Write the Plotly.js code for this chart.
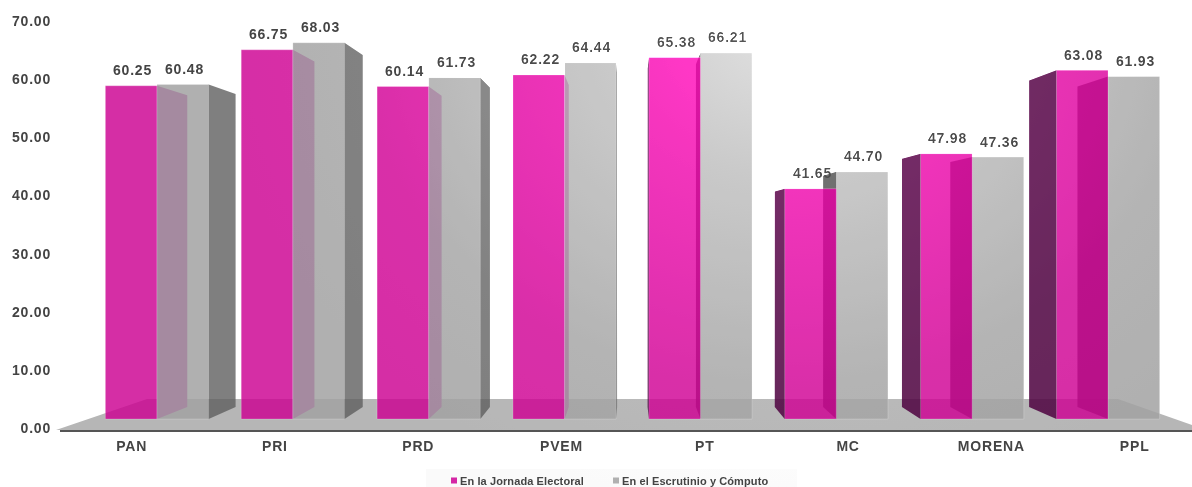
<!DOCTYPE html>
<html><head><meta charset="utf-8">
<script src="https://cdn.plot.ly/plotly-3.0.1.min.js"></script>
<style>
html,body{margin:0;padding:0;background:#fff;overflow:hidden;}
#wrap{position:relative;width:1192px;height:487px;overflow:hidden;background:#fff;}
#chart{position:absolute;left:0;top:0;width:1192px;height:520px;}
#chart text{letter-spacing:.8px;}
#chart .legendtext{letter-spacing:.1px;transform:translateX(-14px);}
#chart .legend .scrollbox{clip-path:none !important;}
#sheen{position:absolute;left:0;top:0;width:1192px;height:487px;pointer-events:none;mix-blend-mode:color-dodge;
background:radial-gradient(ellipse 560px 480px at 780px 30px,rgb(56,56,56) 0%,rgb(33,33,33) 30%,rgb(18,18,18) 55%,rgb(5,5,5) 75%,rgb(0,0,0) 100%);}
</style></head><body>
<div id="wrap"><div id="chart"></div><div id="sheen"></div></div>
<script>
const categories=['PAN','PRI','PRD','PVEM','PT','MC','MORENA','PPL'];
const jornada=[60.25,66.75,60.14,62.22,65.38,41.65,47.98,63.08];
const escrutinio=[60.48,68.03,61.73,64.44,66.21,44.70,47.36,61.93];
const seriesNames=['En la Jornada Electoral','En el Escrutinio y Cómputo'];
const yTicks=[0,10,20,30,40,50,60,70];

// the paper runs a little past the window so the legend sits inside it without pushing the margins
const W=1192,H=520,L=60,T=10,B=430;
const font='"Liberation Sans",Arial,sans-serif';
const ink='#444444';
// perspective of the depth faces, in bar-axis units
const vx=3.48,vy=33.8,k=0.064,bw=0.38;
const bx=x=>x+(vx-x)*k, by=y=>y+(vy-y)*k;
const idx=categories.map((_,i)=>i);
const backOrder=i=>i<4; // left groups: pink behind grey, right groups: grey behind pink

const C={pink:'rgba(204,0,145,0.82)',grey:'rgba(162,162,162,0.85)',
 pinkR:'rgb(180,0,150)',pinkL:'rgba(81,8,67,0.88)',greyR:'rgba(95,95,95,0.8)',greyL:'rgba(70,70,70,0.85)'};

function barTrace(vals,ids,off,color,xa,ya,name){
 return {type:'bar',x:ids,y:ids.map(i=>vals[i]),width:bw,offset:off,xaxis:xa,yaxis:ya,name:name,showlegend:false,
  marker:{color:color,line:{color:'rgba(255,255,255,0.2)',width:1}},hoverinfo:'x+y'};
}
function faceTrace(vals,ids,edgeOf,color,xa,ya){
 const xs=[],ys=[];
 ids.forEach(i=>{const e=edgeOf(i);if(e===null)return;const v=vals[i];
  xs.push(e,e,bx(e),bx(e),e,null);ys.push(0,v,by(v),by(0),0,null);});
 return {type:'scatter',mode:'lines',x:xs,y:ys,fill:'toself',fillcolor:color,line:{width:0},xaxis:xa,yaxis:ya,showlegend:false,hoverinfo:'skip'};
}
// edge of a bar whose side face is visible, by side
const rightEdge=o=>i=>(i+o+bw<vx)?i+o+bw:null;
const leftEdge=o=>i=>(i+o>vx)?i+o:null;
const backIds=idx.filter(backOrder), frontIds=idx.filter(i=>!backOrder(i));

const data=[
 {type:'scatter',mode:'markers',x:categories,y:categories.map(()=>null),name:seriesNames[0],marker:{symbol:'square',size:6,color:'#d526a5'}},
 {type:'scatter',mode:'markers',x:categories,y:categories.map(()=>null),name:seriesNames[1],marker:{symbol:'square',size:6,color:'#b0b0b0'}},
 // rear layer
 barTrace(jornada,backIds,-bw,C.pink,'x2','y2',seriesNames[0]),
 barTrace(escrutinio,frontIds,0,C.grey,'x2','y2',seriesNames[1]),
 faceTrace(jornada,backIds,rightEdge(-bw),C.pinkR,'x2','y2'),
 faceTrace(escrutinio,frontIds,leftEdge(0),C.greyL,'x2','y2'),
 // front layer
 barTrace(escrutinio,backIds,0,C.grey,'x3','y3',seriesNames[1]),
 barTrace(jornada,frontIds,-bw,C.pink,'x3','y3',seriesNames[0]),
 faceTrace(escrutinio,backIds,rightEdge(0),C.greyR,'x3','y3'),
 faceTrace(jornada,frontIds,leftEdge(-bw),C.pinkL,'x3','y3')
];

const px=x=>(x-L)/(W-L), py=y=>(H-y)/(H-T);
const dom=[py(B),1];
const poly=pts=>'M'+pts.map(p=>px(p[0])+','+py(p[1])).join('L')+'Z';
const shapes=[
 {type:'path',xref:'paper',yref:'paper',layer:'below',path:poly([[56,430],[147,399],[1118,399],[1192,425],[1192,430]]),fillcolor:'#b6b6b6',line:{width:0}},
 {type:'rect',xref:'paper',yref:'paper',layer:'below',x0:px(426),x1:px(797),y0:py(487),y1:py(469),fillcolor:'#fafafa',line:{width:0}},
 {type:'line',xref:'paper',yref:'paper',layer:'below',x0:0,x1:1,y0:py(431.5),y1:py(431.5),line:{color:'#c4c4c4',width:1}}
];
const labelFont={family:font,size:14,color:ink,weight:700};
const annotations=[];
idx.forEach(i=>{
 annotations.push({xref:'x3',yref:'y3',x:i-bw/2,y:jornada[i],text:jornada[i].toFixed(2),showarrow:false,yshift:15.5,xshift:1.5,font:labelFont});
 annotations.push({xref:'x3',yref:'y3',x:i+bw/2,y:escrutinio[i],text:escrutinio[i].toFixed(2),showarrow:false,yshift:15.5,xshift:1.5,font:labelFont});
});
const barX={range:[-0.714,7.618],visible:false,fixedrange:true};
const barY={range:[-1.989,73.96],visible:false,fixedrange:true,domain:dom};
const layout={
 width:W,height:H,margin:{l:L,r:0,t:T,b:0,pad:0},paper_bgcolor:'#fff',plot_bgcolor:'rgba(0,0,0,0)',
 barmode:'overlay',showlegend:true,hovermode:'closest',
 legend:{orientation:'h',x:px(434),xanchor:'left',y:py(466),yanchor:'top',bgcolor:'rgba(0,0,0,0)',font:{family:font,size:11,color:ink,weight:700},entrywidth:117,entrywidthmode:'pixels',itemclick:false,itemdoubleclick:false},
 xaxis:{type:'category',categoryorder:'array',categoryarray:categories,range:[-0.5,7.4],showgrid:false,zeroline:false,showline:true,linecolor:'#555555',linewidth:2,ticks:'',ticklabelstandoff:2,tickfont:labelFont,fixedrange:true},
 yaxis:{domain:dom,range:[-0.344,71.94],tickmode:'array',tickvals:yTicks,ticktext:yTicks.map(v=>v.toFixed(2)),showgrid:false,zeroline:false,showline:false,ticks:'',ticklabelstandoff:8,tickfont:labelFont,fixedrange:true},
 xaxis2:Object.assign({overlaying:'x',anchor:'y2'},barX),
 yaxis2:Object.assign({overlaying:'y',anchor:'x2'},barY),
 xaxis3:Object.assign({overlaying:'x',anchor:'y3'},barX),
 yaxis3:Object.assign({overlaying:'y',anchor:'x3'},barY),
 shapes:shapes,annotations:annotations
};
Plotly.newPlot('chart',data,layout,{displayModeBar:false,responsive:false});
</script></body></html>
